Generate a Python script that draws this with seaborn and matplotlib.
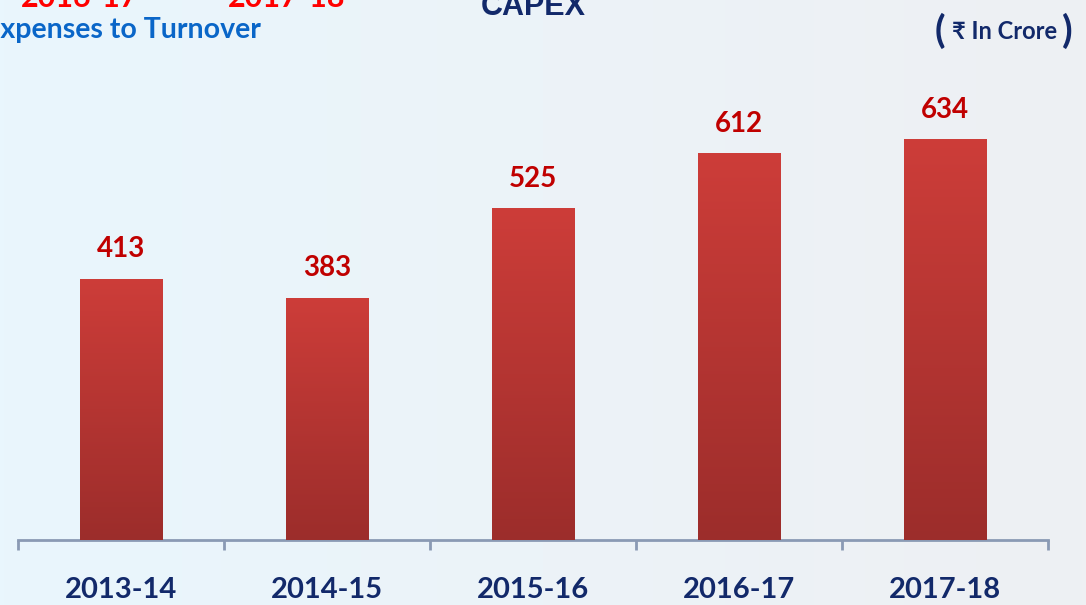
import matplotlib
matplotlib.use("Agg")
import matplotlib.pyplot as plt
import numpy as np
import pandas as pd
import seaborn as sns
from matplotlib.colors import LinearSegmentedColormap

years = ["2013-14", "2014-15", "2015-16", "2016-17", "2017-18"]
capex = [413, 383, 525, 612, 634]

df = pd.DataFrame({"year": years, "capex": capex})

sns.set_theme(style="white")
plt.rcParams["font.family"] = ["Lato", "DejaVu Sans"]

navy = "#12296a"
dark_red = "#c00000"

fig = plt.figure(figsize=(10.86, 6.05), dpi=100)

# soft slide background
bg = fig.add_axes([0, 0, 1, 1], zorder=-10)
bg_cmap = LinearSegmentedColormap.from_list("bg", ["#e9f6fd", "#ecf3f8", "#eef0f3"])
bg.imshow(np.linspace(0, 1, 256).reshape(1, -1), aspect="auto", cmap=bg_cmap,
          extent=[0, 1, 0, 1])
bg.axis("off")

ax = fig.add_axes([18 / 1086, 65 / 605, 1030 / 1086, 540 / 605])
ax.set_facecolor("none")

sns.barplot(data=df, x="year", y="capex", width=0.4, color="#c33a37", ax=ax,
            zorder=2)

bar_cmap = LinearSegmentedColormap.from_list("bar", ["#9c2d2b", "#cd3d39"])
grad = np.linspace(0, 1, 256).reshape(-1, 1)
for bar, val in zip(ax.patches, capex):
    x0, w, h = bar.get_x(), bar.get_width(), bar.get_height()
    img = ax.imshow(grad, extent=[x0, x0 + w, 0, h], origin="lower",
                    aspect="auto", cmap=bar_cmap, zorder=3)
    img.set_clip_path(bar)
    bar.set_edgecolor("none")
    ax.annotate(f"{val}", (x0 + w / 2, h), xytext=(0, 12),
                textcoords="offset points", ha="center", va="bottom",
                fontsize=20, fontweight="bold", color=dark_red)

ax.set_xlim(-0.5, 4.5)
ax.set_ylim(0, 540 / 0.632)

for s in ["top", "right", "left"]:
    ax.spines[s].set_visible(False)
ax.spines["bottom"].set_color("#8a9ab4")
ax.spines["bottom"].set_linewidth(2)

ax.set_yticks([])
ax.set_xticks(range(len(years)))
ax.set_xticklabels(years, fontsize=21, fontweight="bold", color=navy)
ax.tick_params(axis="x", which="major", length=0, pad=27)
ax.set_xticks(np.arange(-0.5, 5, 1), minor=True)
ax.tick_params(axis="x", which="minor", length=7, width=2, color="#8a9ab4",
               direction="out", bottom=True)
ax.set_xlabel("")
ax.set_ylabel("")

# slide texts cut off at the edges, as in the source slide
fig.text(533 / 1086, 1 - 15 / 605, "CAPEX", ha="center", va="baseline",
         fontsize=22, fontweight="bold", color=navy,
         family=["Liberation Sans", "DejaVu Sans"])
fig.text(261 / 1086, 1 - 38 / 605, "Expenses to Turnover", ha="right",
         va="baseline", fontsize=20.5, fontweight="bold", color="#0a66c8")
fig.text(80 / 1086, 1 - 7 / 605, "2016-17", ha="center", va="baseline",
         fontsize=22, fontweight="bold", color="#ff0000")
fig.text(287 / 1086, 1 - 7 / 605, "2017-18", ha="center", va="baseline",
         fontsize=22, fontweight="bold", color="#ff0000")

fig.text(935 / 1086, 1 - 43 / 605, "(", ha="left", va="baseline",
         fontsize=28, fontweight="bold", color=navy)
fig.text(1005 / 1086, 1 - 39 / 605, "₹ In Crore", ha="center", va="baseline",
         fontsize=17, fontweight="bold", color=navy,
         family=["Lato", "DejaVu Sans"])
fig.text(1062 / 1086, 1 - 43 / 605, ")", ha="left", va="baseline",
         fontsize=28, fontweight="bold", color=navy)

fig.savefig("out.png", dpi=100)
